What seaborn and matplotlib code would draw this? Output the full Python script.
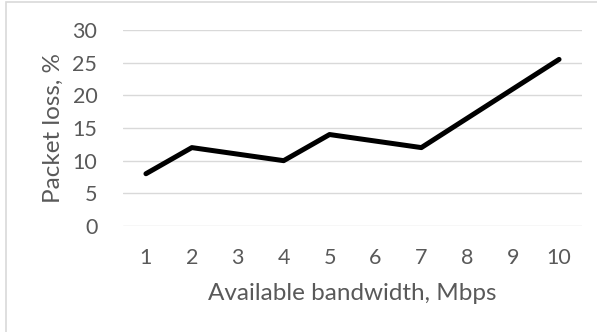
import matplotlib
matplotlib.use("Agg")
import matplotlib.pyplot as plt
import pandas as pd
import seaborn as sns

bandwidth = ["1", "2", "3", "4", "5", "6", "7", "8", "9", "10"]
packet_loss = [8, 12, 11, 10, 14, 13, 12, 16.5, 21, 25.5]
y_ticks = [0, 5, 10, 15, 20, 25, 30]

df = pd.DataFrame({"bandwidth": bandwidth, "loss": packet_loss})

sns.set_style("white")
plt.rcParams['font.family'] = ['Lato', 'DejaVu Sans']
txt = "#595959"

fig = plt.figure(figsize=(5.97, 3.32), dpi=100)
ax = fig.add_axes([123 / 597, 1 - 226 / 332, (582 - 123) / 597, (226 - 30) / 332])

# outer chart frame
fig.patches.append(plt.Rectangle((6 / 597, -0.05), 1.0, 1 - 1.5 / 332 + 0.05,
                                 transform=fig.transFigure, fill=False,
                                 edgecolor="#d9d9d9", linewidth=1.2))

g = sns.lineplot(data=df, x="bandwidth", y="loss", ax=ax, color="black",
                 linewidth=3.6, sort=False)
for ln in g.lines:
    ln.set_solid_capstyle("round")
    ln.set_solid_joinstyle("round")

ax.set_xlim(-0.5, len(bandwidth) - 0.5)
ax.set_ylim(0, 30)
ax.set_yticks(y_ticks)
ax.yaxis.grid(True, color="#d9d9d9", linewidth=1.0)
ax.set_axisbelow(True)
for s in ["top", "right", "left", "bottom"]:
    ax.spines[s].set_visible(False)
ax.tick_params(axis="both", length=0, labelsize=15.5, colors=txt)
ax.tick_params(axis="y", pad=18.5)
ax.tick_params(axis="x", pad=16)

ax.set_xlabel("Available bandwidth, Mbps", fontsize=17.5, color=txt, labelpad=11)
ax.set_ylabel("Packet loss, %", fontsize=17.5, color=txt, labelpad=6)

fig.savefig("out.png", dpi=100)
